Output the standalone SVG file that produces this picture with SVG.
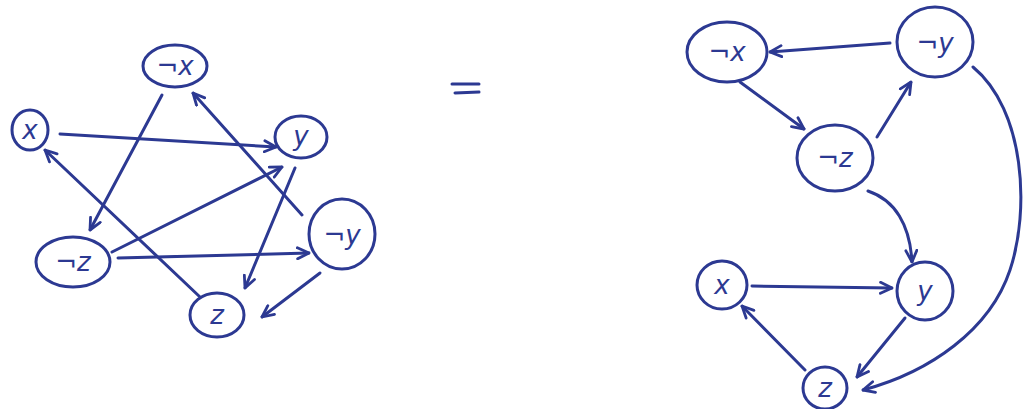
<svg xmlns="http://www.w3.org/2000/svg" width="1026" height="409" viewBox="0 0 1026 409">
<style>
.n{fill:none;stroke:#2c3992;stroke-width:3}
.e{fill:none;stroke:#2c3992;stroke-width:3;stroke-linecap:round;marker-end:url(#a)}
.t{font-family:"DejaVu Sans",sans-serif;font-size:26px;fill:#2c3992;text-anchor:middle;font-style:italic}
</style>
<defs>
<marker id="a" viewBox="0 0 14 14" refX="13" refY="7" markerWidth="14" markerHeight="14" markerUnits="userSpaceOnUse" orient="auto">
<path d="M1.5,1.5 L13,7 L1.5,12.5" fill="none" stroke="#2c3992" stroke-width="2.8" stroke-linecap="round" stroke-linejoin="round"/>
</marker>
</defs>
<rect width="1026" height="409" fill="#fff"/>
<g id="left-nodes">
<g id="L-notx"><ellipse class="n" cx="175" cy="66" rx="32" ry="21"/><text class="t" x="175" y="75">¬x</text></g>
<g id="L-x"><ellipse class="n" cx="30" cy="130" rx="18" ry="20"/><text class="t" x="30" y="139">x</text></g>
<g id="L-y"><ellipse class="n" cx="301" cy="137" rx="26" ry="21"/><text class="t" x="301" y="145">y</text></g>
<g id="L-noty"><ellipse class="n" cx="342" cy="234" rx="33" ry="35"/><text class="t" x="342" y="244">¬y</text></g>
<g id="L-notz"><ellipse class="n" cx="73" cy="262" rx="37" ry="25"/><text class="t" x="73" y="271">¬z</text></g>
<g id="L-z"><ellipse class="n" cx="217" cy="315" rx="27" ry="22"/><text class="t" x="217" y="324">z</text></g>
</g>
<g id="equals">
<path d="M452,84 L479,84 M455,93 L479,92" fill="none" stroke="#2c3992" stroke-width="3" stroke-linecap="round"/>
</g>
<g id="right-nodes">
<g id="R-notx"><ellipse class="n" cx="727" cy="52" rx="40" ry="30"/><text class="t" x="727" y="61">¬x</text></g>
<g id="R-noty"><ellipse class="n" cx="935" cy="42" rx="38" ry="35"/><text class="t" x="935" y="52">¬y</text></g>
<g id="R-notz"><ellipse class="n" cx="835" cy="158" rx="38" ry="33"/><text class="t" x="835" y="167">¬z</text></g>
<g id="R-x"><ellipse class="n" cx="722" cy="285" rx="25" ry="24"/><text class="t" x="722" y="294">x</text></g>
<g id="R-y"><ellipse class="n" cx="925" cy="291" rx="28" ry="29"/><text class="t" x="925" y="300">y</text></g>
<g id="R-z"><ellipse class="n" cx="825" cy="388" rx="22" ry="21"/><text class="t" x="825" y="397">z</text></g>
</g>
<g id="connectors">
<path class="e" d="M162,95 L90,230"/>
<path class="e" d="M60,134 L276,147"/>
<path class="e" d="M112,252 L282,167"/>
<path class="e" d="M118,258 L309,253"/>
<path class="e" d="M200,297 L45,150"/>
<path class="e" d="M302,215 L193,93"/>
<path class="e" d="M295,168 L245,288"/>
<path class="e" d="M320,273 L262,317"/>
<path class="e" d="M890,43 L770,52"/>
<path class="e" d="M740,82 L804,129"/>
<path class="e" d="M877,137 L911,82"/>
<path class="e" d="M868,191 C895,200 910,225 912,262"/>
<path class="e" d="M752,286 L892,288"/>
<path class="e" d="M905,318 L857,377"/>
<path class="e" d="M805,370 L742,306"/>
<path class="e" d="M973,67 C1025,110 1030,210 1010,270 C990,330 930,372 863,390"/>
</g>
</svg>
